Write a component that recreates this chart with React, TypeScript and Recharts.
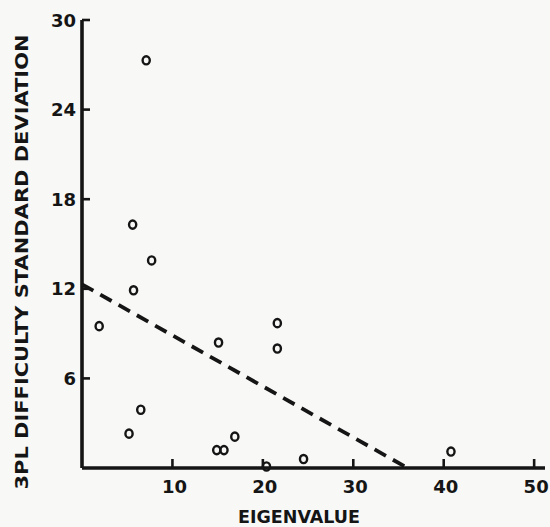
import React from 'react';
import { ScatterChart, Scatter, XAxis, YAxis, ReferenceLine, Label } from 'recharts';

const eigenvalues = [7.1, 5.6, 7.7, 5.7, 1.9, 15.1, 6.5, 5.2, 16.9, 14.9, 15.7, 20.4, 21.6, 21.6, 24.5, 40.8];
const sdValues = [27.3, 16.3, 13.9, 11.9, 9.5, 8.4, 3.9, 2.3, 2.1, 1.2, 1.2, 0.1, 9.7, 8.0, 0.6, 1.1];
const xTicks = [10, 20, 30, 40, 50];
const yTicks = [6, 12, 18, 24, 30];
const fitLineX = [0, 36];
const fitLineY = [12.3, 0];

const points = eigenvalues.map((x, i) => ({ x, y: sdValues[i] }));
const segment = fitLineX.map((x, i) => ({ x, y: fitLineY[i] }));

const INK = '#151515';
const FONT = '"DejaVu Sans", sans-serif';

const OpenCircle = (props: any) => {
  const { cx, cy } = props;
  if (cx == null || cy == null) return null;
  return <ellipse cx={cx} cy={cy} rx={3.6} ry={4.1} fill="none" stroke={INK} strokeWidth={2.4} />;
};

const YTick = (props: any) => {
  const { x, y, payload } = props;
  return (
    <g>
      <line x1={x} x2={x + 8} y1={y} y2={y} stroke={INK} strokeWidth={2.6} />
      <text
        x={x - 6}
        y={y}
        textAnchor="end"
        dominantBaseline="central"
        fontFamily={FONT}
        fontWeight="bold"
        fontSize={18}
        fill={INK}
      >
        {payload.value}
      </text>
    </g>
  );
};

const XTick = (props: any) => {
  const { x, y, payload } = props;
  return (
    <g>
      <line x1={x} x2={x} y1={y} y2={y - 9} stroke={INK} strokeWidth={2.6} />
      <text
        x={x + 2}
        y={y + 25}
        textAnchor="middle"
        fontFamily={FONT}
        fontWeight="bold"
        fontSize={18}
        fill={INK}
      >
        {payload.value}
      </text>
    </g>
  );
};

const YTitle = (props: any) => {
  const vb = props.viewBox || { x: 0, y: 20, width: 82, height: 448 };
  const cx = vb.x + 22;
  const cy = vb.y + vb.height / 2 + 18;
  return (
    <text
      x={cx}
      y={cy}
      transform={`rotate(-90 ${cx} ${cy})`}
      textAnchor="middle"
      dominantBaseline="central"
      fontFamily={FONT}
      fontWeight="bold"
      fontSize={17}
      fill={INK}
      textLength={455}
      lengthAdjust="spacingAndGlyphs"
    >
      3PL DIFFICULTY STANDARD DEVIATION
    </text>
  );
};

const XTitle = (props: any) => {
  const vb = props.viewBox || { x: 82, y: 468, width: 463, height: 40 };
  return (
    <text
      x={299}
      y={vb.y + 55}
      textAnchor="middle"
      fontFamily={FONT}
      fontWeight="bold"
      fontSize={17}
      fill={INK}
      textLength={122}
      lengthAdjust="spacingAndGlyphs"
    >
      EIGENVALUE
    </text>
  );
};

export default function App() {
  return (
    <div style={{ position: 'absolute', left: 0, top: 0, width: 550, height: 527, background: '#f8f8f6' }}>
      <ScatterChart width={550} height={527} margin={{ top: 20, right: 5, bottom: 19, left: 0 }}>
        <XAxis
          type="number"
          dataKey="x"
          domain={[0, 51.2]}
          ticks={xTicks}
          height={40}
          stroke={INK}
          strokeWidth={3.6}
          axisLine={{ stroke: INK, strokeWidth: 3.6 }}
          tickLine={false}
          tickSize={0}
          tickMargin={0}
          tick={<XTick />}
        >
          <Label content={<XTitle />} />
        </XAxis>
        <YAxis
          type="number"
          dataKey="y"
          domain={[0, 30]}
          ticks={yTicks}
          width={82}
          stroke={INK}
          strokeWidth={3.6}
          axisLine={{ stroke: INK, strokeWidth: 3.6 }}
          tickLine={false}
          tickSize={0}
          tickMargin={0}
          tick={<YTick />}
        >
          <Label content={<YTitle />} />
        </YAxis>
        <ReferenceLine
          segment={segment}
          stroke={INK}
          strokeWidth={3.8}
          strokeDasharray="13 8"
          ifOverflow="visible"
        />
        <Scatter data={points} shape={<OpenCircle />} isAnimationActive={false} />
      </ScatterChart>
    </div>
  );
}
